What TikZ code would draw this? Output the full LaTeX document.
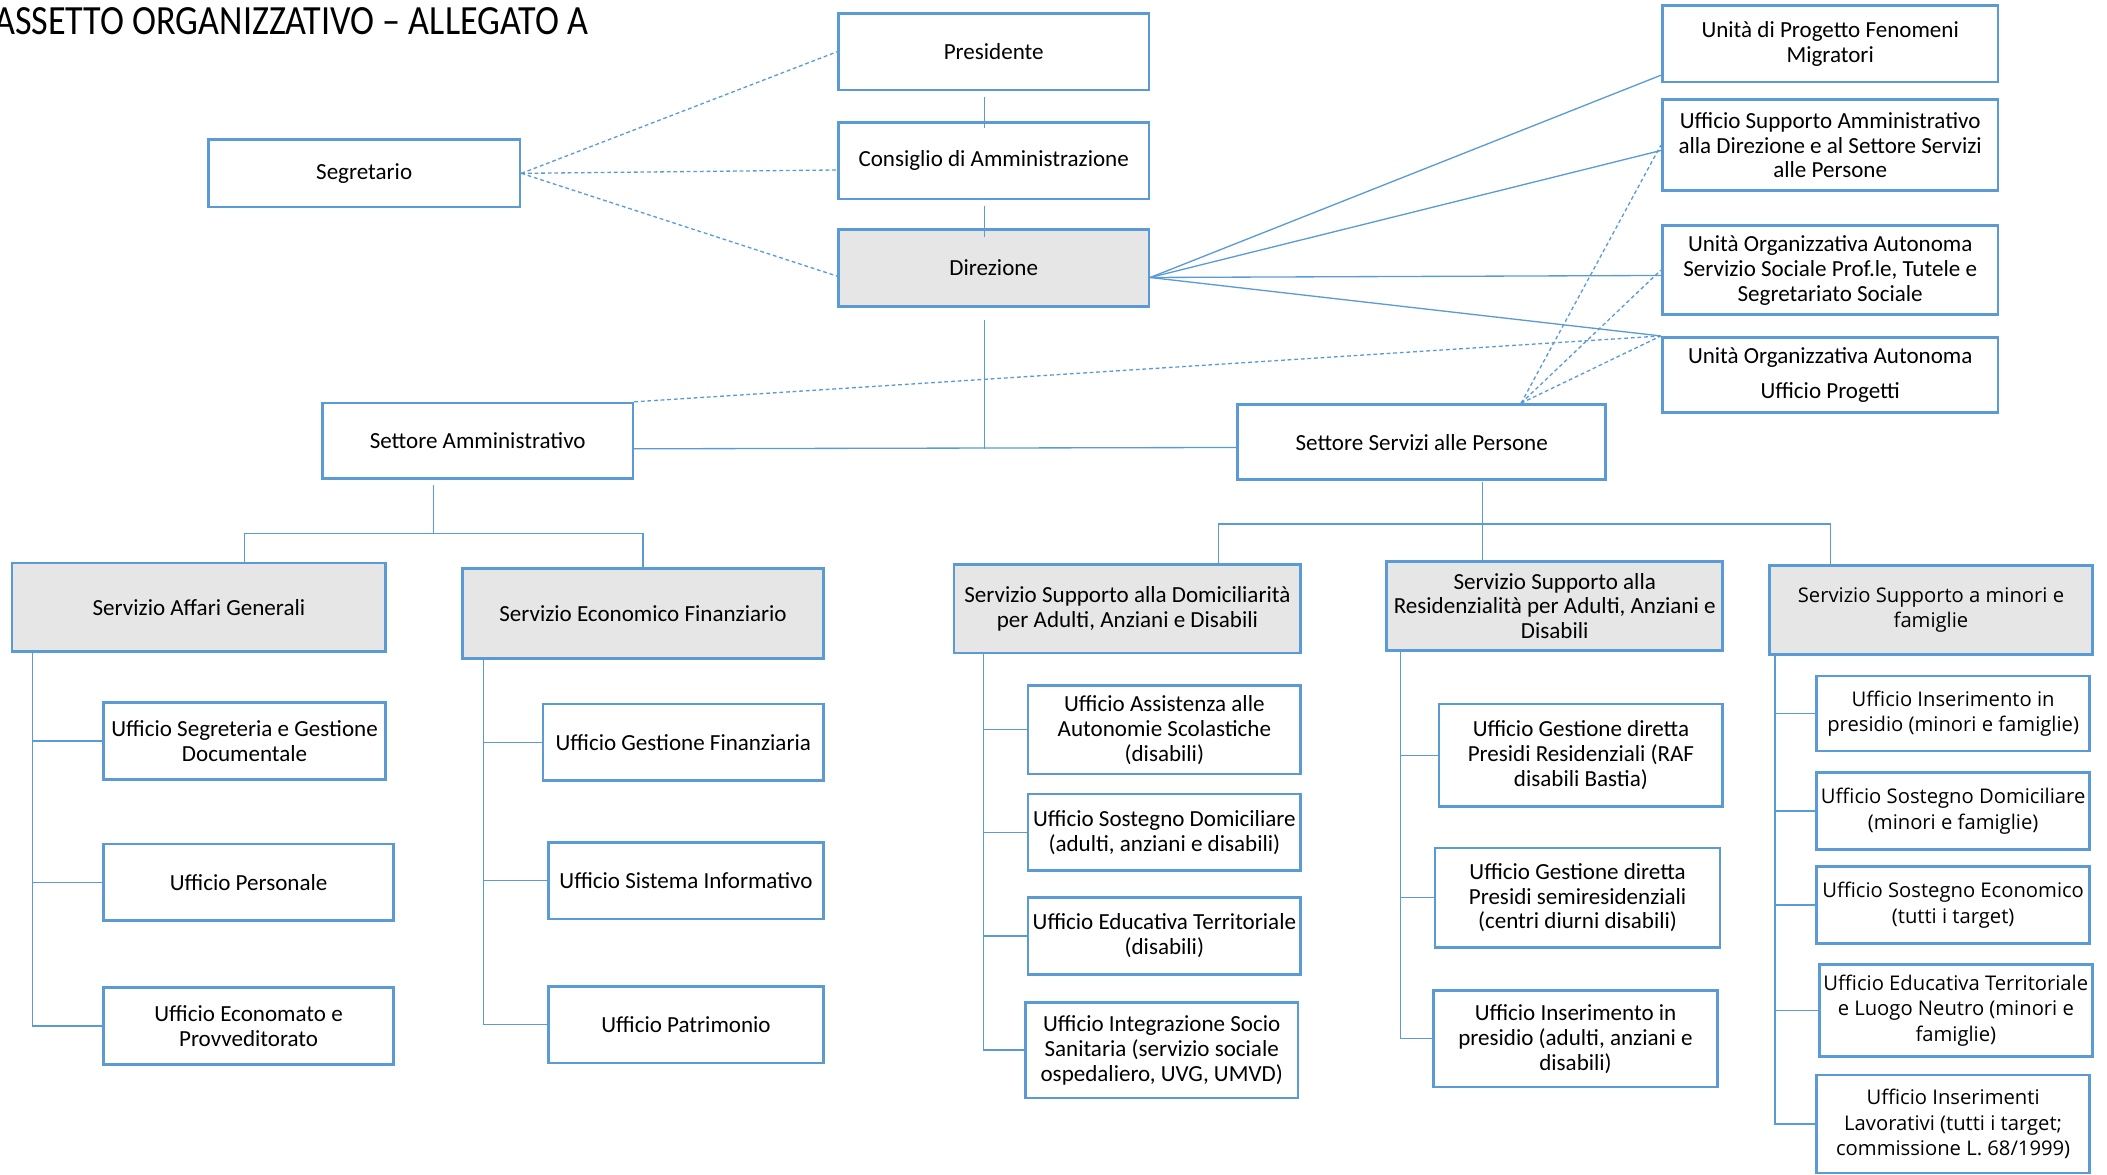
\documentclass[tikz,border=0pt]{standalone}
\usepackage{graphicx}
\usepackage{fontspec}
\setmainfont{Carlito}
\newfontfamily\opensans{Open Sans}
\usetikzlibrary{positioning}
\usetikzlibrary{calc}
\definecolor{orgblue}{HTML}{5B9BD5}
\definecolor{orggray}{HTML}{E7E6E6}

\begin{document}
\begin{tikzpicture}[x=0.025cm, y=-0.025cm,
    box/.style 2 args={draw=orgblue, line width=1.4pt, fill=white, align=center, inner sep=1pt,
        minimum width=#1*0.025cm, minimum height=#2*0.025cm, font=\fontsize{12.2}{13.2}\selectfont},
    gbox/.style 2 args={box={#1}{#2}, fill=orggray},
    widefont/.style={font=\opensans\fontsize{10.7}{13.5}\selectfont},
    ln/.style={draw=orgblue, line width=0.7pt},
    dln/.style={ln, dash pattern=on 2pt off 1.5pt}]
    \useasboundingbox (0,0) rectangle (1568,874);

    \node[anchor=east, inner sep=0pt, font=\fontsize{22}{26}\selectfont] (title) at (438,16) {\scalebox{0.87}[1]{ASSETTO ORGANIZZATIVO – ALLEGATO A}};

    % vertici
    \node[box={231}{57}] (pres) at (739.5,38.5) {Presidente};
    \node[box={231}{57}] (cda) at (739.5,119.5) {Consiglio di Amministrazione};
    \node[gbox={231}{57}] (dir) at (739.5,199.5) {Direzione};
    \node[box={232}{50}] (seg) at (271,129) {Segretario};

    % staff della direzione
    \node[box={250}{57}] (upfm) at (1362,32.5) {Unità di Progetto Fenomeni\\Migratori};
    \node[box={250}{68}] (usa) at (1362,108) {Ufficio Supporto Amministrativo\\alla Direzione e al Settore Servizi\\alle Persone};
    \node[box={250}{66}] (uoas) at (1362,201) {Unità Organizzativa Autonoma\\Servizio Sociale Prof.le, Tutele e\\Segretariato Sociale};
    \node[box={250}{56}] (uoap) at (1362,279) {Unità Organizzativa Autonoma\\[5pt]Ufficio Progetti};

    % settori
    \node[box={231}{56}] (sam) at (355.5,328) {Settore Amministrativo};
    \node[box={274}{56}] (ssp) at (1058,329) {Settore Servizi alle Persone};

    % servizi
    \node[gbox={278}{66}] (sag) at (148,452) {Servizio Affari Generali};
    \node[gbox={269}{67}] (sef) at (478.5,456.5) {Servizio Economico Finanziario};
    \node[gbox={258}{66}] (ssd) at (839,453) {Servizio Supporto alla Domiciliarità\\per Adulti, Anziani e Disabili};
    \node[gbox={250}{66}] (ssr) at (1157,451) {Servizio Supporto alla\\Residenzialità per Adulti, Anziani e\\Disabili};
    \node[gbox={240}{66}, widefont] (ssm) at (1437,454) {Servizio Supporto a minori e\\famiglie};

    % uffici
    \node[box={210}{57}] (u11) at (182,551.5) {Ufficio Segreteria e Gestione\\Documentale};
    \node[box={216}{57}] (u12) at (185,656.5) {Ufficio Personale};
    \node[box={216}{57}] (u13) at (185,763.5) {Ufficio Economato e\\Provveditorato};

    \node[box={209}{57}] (u21) at (508.5,552.5) {Ufficio Gestione Finanziaria};
    \node[box={205}{57}] (u22) at (510.5,655.5) {Ufficio Sistema Informativo};
    \node[box={205}{57}] (u23) at (510.5,762.5) {Ufficio Patrimonio};

    \node[box={203}{66}] (u31) at (866.5,543) {Ufficio Assistenza alle\\Autonomie Scolastiche\\(disabili)};
    \node[box={203}{57}] (u32) at (866.5,619.5) {Ufficio Sostegno Domiciliare\\(adulti, anziani e disabili)};
    \node[box={203}{57}] (u33) at (866.5,696.5) {Ufficio Educativa Territoriale\\(disabili)};
    \node[box={203}{71}] (u34) at (864.5,781.5) {Ufficio Integrazione Socio\\Sanitaria (servizio sociale\\ospedaliero, UVG, UMVD)};

    \node[box={211}{76}] (u41) at (1176.5,562) {Ufficio Gestione diretta\\Presidi Residenziali (RAF\\disabili Bastia)};
    \node[box={212}{74}] (u42) at (1174,668) {Ufficio Gestione diretta\\Presidi semiresidenziali\\(centri diurni disabili)};
    \node[box={211}{72}] (u43) at (1172.5,773) {Ufficio Inserimento in\\presidio (adulti, anziani e\\disabili)};

    \node[box={203}{56}, widefont] (u51) at (1453.5,531) {Ufficio Inserimento in\\presidio (minori e famiglie)};
    \node[box={203}{57}, widefont] (u52) at (1453.5,603.5) {Ufficio Sostegno Domiciliare\\(minori e famiglie)};
    \node[box={203}{57}, widefont] (u53) at (1453.5,673.5) {Ufficio Sostegno Economico\\(tutti i target)};
    \node[box={203}{68}, widefont] (u54) at (1455.5,752) {Ufficio Educativa Territoriale\\e Luogo Neutro (minori e\\famiglie)};
    \node[box={203}{73}, widefont] (u55) at (1453.5,836.5) {Ufficio Inserimenti\\Lavorativi (tutti i target;\\commissione L. 68/1999)};

    % linea gerarchica
    \draw[ln] ($(pres.south)+(-7,4)$) -- ($(cda.north)+(-7,5)$);
    \draw[ln] ($(cda.south)+(-7,4)$) -- ($(dir.north)+(-7,6)$);
    \coordinate (dirB) at ($(dir.south)+(-7,9)$);
    \coordinate (samR) at ($(sam.east)+(0,6)$);
    \draw[ln] (dirB) -- (dirB |- samR);
    \draw[ln] (samR) -- ($(ssp.west)+(0,4)$);

    % staff
    \draw[dln] (seg.east) -- (pres.west);
    \draw[dln] (seg.east) -- ($(cda.west)+(0,7)$);
    \draw[dln] (seg.east) -- ($(dir.west)+(0,6)$);
    \coordinate (dirR) at ($(dir.east)+(0,7)$);
    \draw[ln] (dirR) -- ($(upfm.south west)+(0,-6)$);
    \draw[ln] (dirR) -- ($(usa.west)+(0,4)$);
    \draw[ln] (dirR) -- ($(uoas.west)+(0,4)$);
    \draw[ln] (dirR) -- (uoap.north west);
    \draw[dln] (sam.north east) -- (uoap.north west);
    \coordinate (sspT) at ($(ssp.north)+(74,0)$);
    \foreach \t in {usa.west, uoas.west, uoap.north west}
        \draw[dln] (sspT) -- (\t);

    % settore amministrativo
    \coordinate (samB) at ($(sam.south)+(-33,4)$);
    \coordinate (busL) at ($(sag.north)+(34,-21)$);
    \draw[ln] (samB) -- (samB |- busL);
    \draw[ln] (busL |- sag.north) -- (busL) -| (sef.north);

    % settore servizi alle persone
    \coordinate (sspB) at ($(ssp.south)+(45,1)$);
    \coordinate (busR) at ($(ssp.south)+(45,32)$);
    \coordinate (ssdT) at ($(ssd.north)+(68,0)$);
    \coordinate (ssmT) at ($(ssm.north)+(-75,0)$);
    \draw[ln] (sspB) -- (busR);
    \draw[ln] (ssdT) |- (busR) -| (ssmT);
    \draw[ln] (busR) -- (busR |- ssr.north);

    % uffici
    \coordinate (t1) at ($(sag.south west)+(16,0)$);
    \coordinate (t2) at ($(sef.south west)+(17,0)$);
    \coordinate (t3) at ($(ssd.south west)+(23,0)$);
    \coordinate (t4) at ($(ssr.south west)+(11,0)$);
    \coordinate (t5) at ($(ssm.south west)+(5,0)$);
    \draw[ln] (t1) |- (u13.west);
    \draw[ln] (t2) |- (u23.west);
    \draw[ln] (t3) |- (u34.west);
    \draw[ln] (t4) |- (u43.west);
    \draw[ln] (t5) |- (u55.west);
    \foreach \o in {u11,u12} \draw[ln] (t1 |- \o.west) -- (\o.west);
    \foreach \o in {u21,u22} \draw[ln] (t2 |- \o.west) -- (\o.west);
    \foreach \o in {u31,u32,u33} \draw[ln] (t3 |- \o.west) -- (\o.west);
    \foreach \o in {u41,u42} \draw[ln] (t4 |- \o.west) -- (\o.west);
    \foreach \o in {u51,u52,u53,u54} \draw[ln] (t5 |- \o.west) -- (\o.west);
\end{tikzpicture}
\end{document}
